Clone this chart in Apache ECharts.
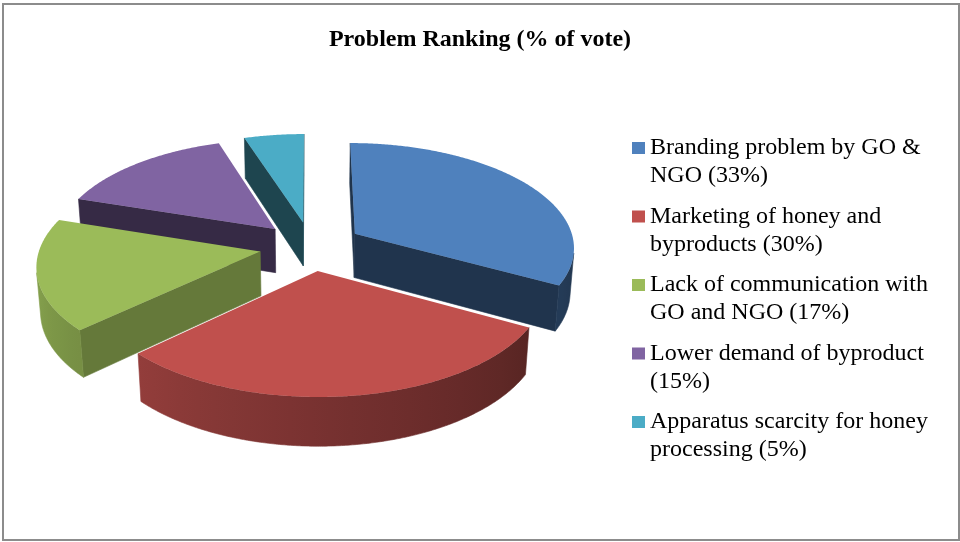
<!DOCTYPE html>
<html>
<head>
<meta charset="utf-8">
<title>Problem Ranking (% of vote)</title>
<script src="https://cdn.jsdelivr.net/npm/echarts@6/dist/echarts.min.js"></script>
<style>
  html, body { margin: 0; padding: 0; background: #fff; }
  #chart { width: 960px; height: 542px; }
</style>
</head>
<body>
<div id="chart"></div>
<script>
const categories = [
    "Branding problem by GO & NGO",
    "Marketing of honey and byproducts",
    "Lack of communication with GO and NGO",
    "Lower demand of byproduct",
    "Apparatus scarcity for honey processing"
];
const votes = [33, 30, 17, 15, 5];
const colors = ["#4F81BD", "#C0504D", "#9BBB59", "#8064A2", "#4BACC6"];

const legendNames = categories.map((c, i) => c + " (" + votes[i] + "%)");

// tilted disc seen from above and in front (pixel values for the 960x542 window)
const view = { cx: 311, cy: 246, scale: 220, tilt: 28.3, dist: 7.33, depth: 0.232, explode: 0.235 };

const sinT = Math.sin(view.tilt * Math.PI / 180);
const cosT = Math.cos(view.tilt * Math.PI / 180);
// camera position in disc coordinates (x right, y up, z away from viewer)
const cam = { x: 0, y: view.dist * sinT, z: -view.dist * cosT };

function project(x, z, y){
    const v = z * sinT + y * cosT;
    const dz = z * cosT - y * sinT;
    const k = view.scale / (1 + dz / view.dist);
    return [view.cx + x * k, view.cy - v * k];
}

function shade(hex, m){
    const n = parseInt(hex.slice(1), 16);
    const r = Math.round(((n >> 16) & 255) * m);
    const g = Math.round(((n >> 8) & 255) * m);
    const b = Math.round((n & 255) * m);
    return "rgb(" + r + "," + g + "," + b + ")";
}

// outer wall gets darker towards the right
function wallLight(t){
    let deg = t * 180 / Math.PI;
    while(deg > 90) deg -= 360;
    while(deg < -270) deg += 360;
    let u = -deg / 180;
    u = Math.max(0, Math.min(1, u));
    return 0.4 + 0.5 * Math.pow(u, 1.15);
}

// radial cut faces: only the ones turned to the right catch light
function cutLight(n){
    const c = Math.cos(n + Math.PI / 4);
    return 0.4 + 0.25 * Math.pow(Math.max(0, c), 3);
}

const total = votes.reduce((a, b) => a + b, 0);

function renderSlice(i){
    return function(params, api){
        let before = 0;
        for(let k = 0; k < i; k++) before += votes[k];
        // clockwise from 12 o'clock
        const a1 = Math.PI / 2 - before / total * 2 * Math.PI;
        const a0 = a1 - api.value(0) / total * 2 * Math.PI;
        const mid = (a0 + a1) / 2;
        const ox = view.explode * Math.cos(mid);
        const oz = view.explode * Math.sin(mid);
        const H = -view.depth;
        const base = colors[i];

        const steps = Math.max(4, Math.ceil((a1 - a0) / (0.5 * Math.PI / 180)));
        const ts = [];
        for(let j = 0; j <= steps; j++) ts.push(a0 + (a1 - a0) * j / steps);

        const children = [];

        // radial cut faces
        [[a0, a0 - Math.PI / 2], [a1, a1 + Math.PI / 2]].forEach(function(e){
            const a = e[0], n = e[1];
            const px = ox + 0.5 * Math.cos(a), pz = oz + 0.5 * Math.sin(a);
            const dot = Math.cos(n) * (cam.x - px) + Math.sin(n) * (cam.z - pz);
            if(dot <= 0) return;
            const col = shade(base, cutLight(n));
            children.push({
                type: "polygon", z2: 1,
                shape: { points: [
                    project(ox, oz, 0),
                    project(ox + Math.cos(a), oz + Math.sin(a), 0),
                    project(ox + Math.cos(a), oz + Math.sin(a), H),
                    project(ox, oz, H)
                ] },
                style: { fill: col, stroke: col, lineWidth: 0.6 }
            });
        });

        // outer curved wall, the part turned to the viewer
        const vis = ts.filter(function(t){
            const px = ox + Math.cos(t), pz = oz + Math.sin(t);
            return Math.cos(t) * (cam.x - px) + Math.sin(t) * (cam.z - pz) > 0;
        });
        if(vis.length >= 2){
            const topPts = vis.map(t => project(ox + Math.cos(t), oz + Math.sin(t), 0));
            const botPts = vis.map(t => project(ox + Math.cos(t), oz + Math.sin(t), H)).reverse();
            const xs = topPts.map(p => p[0]);
            const xmin = Math.min.apply(null, xs), xmax = Math.max.apply(null, xs);
            const stops = [];
            const nStop = 8;
            for(let s = 0; s <= nStop; s++){
                const idx = Math.round(s * (vis.length - 1) / nStop);
                stops.push({ x: topPts[idx][0], c: shade(base, wallLight(vis[idx])) });
            }
            stops.sort((p, q) => p.x - q.x);
            const span = Math.max(1, xmax - xmin);
            const grad = new echarts.graphic.LinearGradient(xmin, 0, xmax, 0,
                stops.map(s => ({ offset: (s.x - xmin) / span, color: s.c })), true);
            children.push({
                type: "polygon", z2: 2,
                shape: { points: topPts.concat(botPts) },
                style: { fill: grad, stroke: grad, lineWidth: 0.6 }
            });
        }

        // top face
        const face = [project(ox, oz, 0)].concat(ts.map(t => project(ox + Math.cos(t), oz + Math.sin(t), 0)));
        children.push({
            type: "polygon", z2: 3,
            shape: { points: face },
            style: { fill: base }
        });

        return { type: "group", children: children };
    };
}

// paint the slices from back to front
const depthOrder = votes.map(function(v, i){
    let before = 0;
    for(let k = 0; k < i; k++) before += votes[k];
    const mid = Math.PI / 2 - (before + v / 2) / total * 2 * Math.PI;
    return { i: i, d: Math.sin(mid) };
}).sort((a, b) => b.d - a.d).map(o => o.i);

const element = document.getElementById("chart");
const instance = echarts.init(element, null, { renderer: "canvas" });

let option = {
    backgroundColor: "#fff",
    animation: false,
    color: colors,
    title: {
        text: "Problem Ranking (% of vote)",
        left: "center",
        top: 28,
        padding: 0,
        textStyle: {
            fontFamily: "Liberation Serif",
            fontSize: 24,
            fontWeight: "bold",
            color: "#000"
        }
    },
    legend: {
        orient: "vertical",
        left: 632,
        top: 134,
        // square sits at the top of a 40px tall icon box, next to the first text line
        icon: "path://M0,0L13,0L13,12L0,12Z M0,40L0.01,40",
        itemWidth: 13,
        itemHeight: 40,
        itemGap: 12.5,
        padding: 0,
        selectedMode: false,
        data: legendNames,
        textStyle: {
            fontFamily: "Liberation Serif",
            fontSize: 24,
            color: "#000",
            lineHeight: 28,
            width: 292,
            overflow: "break"
        }
    },
    graphic: [
        {
            type: "rect",
            silent: true,
            shape: { x: 3, y: 4, width: 956, height: 536 },
            style: { fill: "none", stroke: "#8c8c8c", lineWidth: 2 }
        }
    ],
    series: legendNames.map(function(name, i){
        return {
            type: "custom",
            name: name,
            coordinateSystem: "none",
            silent: true,
            z: 2 + depthOrder.indexOf(i) * 0.1,
            itemStyle: { color: colors[i] },
            data: [[votes[i]]],
            renderItem: renderSlice(i)
        };
    })
};

instance && instance.setOption(option);
</script>
</body>
</html>
